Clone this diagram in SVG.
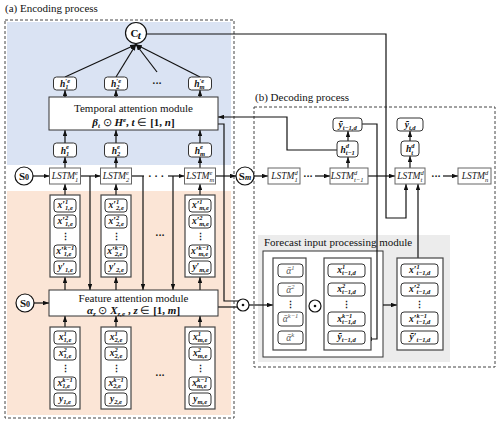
<svg xmlns="http://www.w3.org/2000/svg" width="500" height="427" viewBox="0 0 500 427">
<defs>
<marker id="ah" viewBox="0 0 8 6" refX="8" refY="3" markerWidth="6" markerHeight="4.5" orient="auto" markerUnits="userSpaceOnUse"><path d="M0,0L8,3L0,6z" fill="#111"/></marker>
<style>
.tx{font-family:"Liberation Serif","Times New Roman",serif;font-size:11px;fill:#111}
.b{font-family:"Liberation Serif","Times New Roman",serif;font-weight:bold;font-style:italic;font-size:9.5px;fill:#111}
.s{font-family:"Liberation Serif","Times New Roman",serif;font-weight:bold;font-style:italic;font-size:6.5px;fill:#111}
.li{font-family:"Liberation Serif","Times New Roman",serif;font-style:italic;font-size:9.5px;fill:#1a1a1a}
.ls{font-family:"Liberation Serif","Times New Roman",serif;font-style:italic;font-size:6.5px;fill:#1a1a1a}
.ai{font-family:"Liberation Serif","DejaVu Serif",serif;font-style:italic;font-size:9.5px;fill:#555}
.as{font-family:"Liberation Serif","DejaVu Serif",serif;font-style:italic;font-size:6.5px;fill:#555}
.dt{font-family:"DejaVu Serif","Liberation Serif",serif;font-weight:bold;font-size:9px;fill:#111}
.it{fill:#fff;stroke:#333;stroke-width:1}
.col{fill:#fff;stroke:#444;stroke-width:1.2}
.lstm{fill:#fff;stroke:#666;stroke-width:1}
.mod{fill:#fff;stroke:#333;stroke-width:1}
.cir{fill:#fff;stroke:#111;stroke-width:1.2}
.ln{fill:none;stroke:#111;stroke-width:1.2}
.ar{marker-end:url(#ah)}
.dash{fill:none;stroke:#444;stroke-width:1;stroke-dasharray:3 2}
</style>
</defs>

<!-- backgrounds -->
<rect x="7" y="22" width="224" height="143" fill="#dae3f3"/>
<rect x="7" y="191" width="224" height="224" fill="#fbe5d6"/>
<rect x="258" y="235" width="192" height="127" fill="#ececec"/>
<rect class="dash" x="5" y="20" width="229" height="398"/>
<rect class="dash" x="254" y="107" width="241" height="260"/>
<text class="tx" x="5" y="12">(a) Encoding process</text>
<text class="tx" x="255" y="101">(b) Decoding process</text>
<text class="tx" x="264" y="246">Forecast input processing module</text>
<rect x="263" y="251" width="120" height="106" fill="#fff" stroke="#333" stroke-width="1"/>

<!-- connectors -->
<g id="connectors">
<path class="ln ar" d="M65,77L136,44.5"/>
<path class="ln ar" d="M116,77L136,44.5"/>
<path class="ln ar" d="M157,72L136,44.5"/>
<path class="ln ar" d="M200,77L136,44.5"/>
<path class="ln ar" d="M65,97V90"/>
<path class="ln ar" d="M116,97V90"/>
<path class="ln ar" d="M200,97V90"/>
<path class="ln ar" d="M65,143V130"/>
<path class="ln ar" d="M116,143V130"/>
<path class="ln ar" d="M200,143V130"/>
<path class="ln ar" d="M65,168V157"/>
<path class="ln ar" d="M116,168V157"/>
<path class="ln ar" d="M200,168V157"/>
<path class="ln ar" d="M65,195V184"/>
<path class="ln ar" d="M116,195V184"/>
<path class="ln ar" d="M200,195V184"/>
<path class="ln ar" d="M33,176H49.5"/>
<path class="ln ar" d="M80.5,176H100.5"/>
<path class="ln" d="M131.5,176H144"/>
<path class="ln ar" d="M168,176H184.5"/>
<path class="ln ar" d="M215.5,176H236"/>
<path class="ln ar" d="M90,176V290"/>
<path class="ln ar" d="M143,176V290"/>
<path class="ln ar" d="M173,176V290"/>
<path class="ln ar" d="M65,290V277"/>
<path class="ln ar" d="M116,290V277"/>
<path class="ln ar" d="M200,290V277"/>
<path class="ln ar" d="M65,327V316"/>
<path class="ln ar" d="M116,327V316"/>
<path class="ln ar" d="M200,327V316"/>
<path class="ln ar" d="M34,303H49"/>
<path class="ln" d="M218,124H224V301H238"/>
<path class="ln" d="M218,307H237"/>
<path class="ln ar" d="M249,305H273"/>
<path class="ln ar" d="M383,305H397"/>
<path class="ln ar" d="M147,34H386V218H406V184"/>
<path class="ln ar" d="M337,150H287V117H218"/>
<path class="ln ar" d="M362,124H377V339H366"/>
<path class="ln ar" d="M418,258V184"/>
<path class="ln ar" d="M254,176H268"/>
<path class="ln ar" d="M315,176H330"/>
<path class="ln ar" d="M368,176H395"/>
<path class="ln ar" d="M443,176H458"/>
<path class="ln ar" d="M348,168V157"/>
<path class="ln ar" d="M348,141V131"/>
<path class="ln ar" d="M410,168V156"/>
<path class="ln ar" d="M410,141V131"/>
</g>

<!-- Ct -->
<g id="Ct"><circle class="cir" cx="136" cy="33" r="10.5"/>
<text class="tx" x="130.5" y="37" font-weight="bold">C</text><text class="tx" x="137.8" y="39" font-size="7" font-style="italic" font-weight="bold">t</text></g>

<!-- h' row -->
<g id="hp1"><rect class="it" x="53.5" y="77" width="23" height="13" rx="3"/><text class="b" x="65.3" y="87" text-anchor="end">h</text><text class="s" x="65.3" y="82.8">′e</text><text class="s" x="65.3" y="89">1</text></g>
<g id="hp2"><rect class="it" x="104.5" y="77" width="23" height="13" rx="3"/><text class="b" x="116.3" y="87" text-anchor="end">h</text><text class="s" x="116.3" y="82.8">′e</text><text class="s" x="116.3" y="89">2</text></g>
<text class="dt" x="157" y="86" text-anchor="middle" font-size="11">···</text>
<g id="hpm"><rect class="it" x="188.5" y="77" width="23" height="13" rx="3"/><text class="b" x="199.5" y="87" text-anchor="end">h</text><text class="s" x="199.5" y="82.8">′e</text><text class="s" x="199.5" y="89">m</text></g>

<!-- temporal module -->
<g id="temporal"><rect class="mod" x="49" y="97" width="169" height="33"/>
<text class="tx" x="133.5" y="111.5" text-anchor="middle">Temporal attention module</text>
<text class="tx" x="133.5" y="125.5" text-anchor="middle" font-weight="bold"><tspan font-style="italic">β</tspan><tspan font-style="italic" font-size="7" dy="2">t</tspan><tspan dy="-2" font-weight="normal"> ⊙ </tspan><tspan font-style="italic">H</tspan><tspan font-style="italic" font-size="7" dy="-4">e</tspan><tspan dy="4">, </tspan><tspan font-style="italic">t</tspan><tspan font-weight="normal"> ∈ </tspan>[1, <tspan font-style="italic">n</tspan>]</text></g>

<!-- h^e row -->
<g id="he1"><rect class="it" x="53.5" y="143" width="23" height="14" rx="3"/><text class="b" x="66" y="153.5" text-anchor="end">h</text><text class="s" x="66" y="149">e</text><text class="s" x="66" y="155.8">1</text></g>
<g id="he2"><rect class="it" x="104.5" y="143" width="23" height="14" rx="3"/><text class="b" x="117" y="153.5" text-anchor="end">h</text><text class="s" x="117" y="149">e</text><text class="s" x="117" y="155.8">2</text></g>
<g id="hem"><rect class="it" x="188.5" y="143" width="23" height="14" rx="3"/><text class="b" x="200" y="153.5" text-anchor="end">h</text><text class="s" x="200" y="149">e</text><text class="s" x="200" y="155.8">m</text></g>

<!-- encoder LSTM row -->
<g id="S0a"><circle class="cir" cx="24" cy="176" r="9"/><text class="tx" x="24" y="179.5" text-anchor="middle" font-weight="bold" font-size="10">S<tspan font-size="8">0</tspan></text></g>
<g id="lstme1"><rect class="lstm" x="49.5" y="168" width="31" height="16"/><text class="li" x="75" y="179" text-anchor="end">LSTM</text><text class="ls" x="75" y="175">e</text><text class="ls" x="75" y="181.5">1</text></g>
<g id="lstme2"><rect class="lstm" x="100.5" y="168" width="31" height="16"/><text class="li" x="126" y="179" text-anchor="end">LSTM</text><text class="ls" x="126" y="175">e</text><text class="ls" x="126" y="181.5">2</text></g>
<text class="dt" x="156" y="179" text-anchor="middle" font-size="9">· · ·</text>
<g id="lstmem"><rect class="lstm" x="184.5" y="168" width="31" height="16"/><text class="li" x="209.5" y="179" text-anchor="end">LSTM</text><text class="ls" x="209.5" y="175">e</text><text class="ls" x="209.5" y="181.5">m</text></g>
<g id="Sm"><circle class="cir" cx="245" cy="176" r="9"/><text class="tx" x="245" y="179.5" text-anchor="middle" font-weight="bold" font-size="10">S<tspan font-size="8" font-style="italic">m</tspan></text></g>

<!-- encoder upper input columns -->
<g id="colp1"><rect class="col" x="50" y="195" width="30" height="82"/>
<rect class="it" x="54" y="199" width="22" height="13" rx="3"/><text class="b" x="65" y="208.2" text-anchor="end">x′</text><text class="s" x="65" y="204.3">1</text><text class="s" x="65" y="210.3">1,e</text>
<rect class="it" x="54" y="215" width="22" height="13" rx="3"/><text class="b" x="65" y="224.2" text-anchor="end">x′</text><text class="s" x="65" y="220.3">2</text><text class="s" x="65" y="226.3">1,e</text>
<text class="dt" x="65" y="240" text-anchor="middle" font-size="10">⋮</text>
<rect class="it" x="54" y="245" width="22" height="13" rx="3"/><text class="b" x="63.7" y="254.2" text-anchor="end">x′</text><text class="s" x="63.7" y="250.3">k−1</text><text class="s" x="63.7" y="256.3">1,e</text>
<rect class="it" x="54" y="261" width="22" height="13" rx="3"/><text class="b" x="65" y="270.2" text-anchor="end">y′</text><text class="s" x="65" y="272.3">1,e</text></g>
<g id="colp2"><rect class="col" x="101" y="195" width="30" height="82"/>
<rect class="it" x="105" y="199" width="22" height="13" rx="3"/><text class="b" x="116" y="208.2" text-anchor="end">x′</text><text class="s" x="116" y="204.3">1</text><text class="s" x="116" y="210.3">2,e</text>
<rect class="it" x="105" y="215" width="22" height="13" rx="3"/><text class="b" x="116" y="224.2" text-anchor="end">x′</text><text class="s" x="116" y="220.3">2</text><text class="s" x="116" y="226.3">2,e</text>
<text class="dt" x="116" y="240" text-anchor="middle" font-size="10">⋮</text>
<rect class="it" x="105" y="245" width="22" height="13" rx="3"/><text class="b" x="114.7" y="254.2" text-anchor="end">x′</text><text class="s" x="114.7" y="250.3">k−1</text><text class="s" x="114.7" y="256.3">2,e</text>
<rect class="it" x="105" y="261" width="22" height="13" rx="3"/><text class="b" x="116" y="270.2" text-anchor="end">y′</text><text class="s" x="116" y="272.3">2,e</text></g>
<text class="dt" x="160" y="238" text-anchor="middle" font-size="10">···</text>
<g id="colpm"><rect class="col" x="185" y="195" width="30" height="82"/>
<rect class="it" x="189" y="199" width="22" height="13" rx="3"/><text class="b" x="199.3" y="208.2" text-anchor="end">x′</text><text class="s" x="199.3" y="204.3">1</text><text class="s" x="199.3" y="210.3">m,e</text>
<rect class="it" x="189" y="215" width="22" height="13" rx="3"/><text class="b" x="199.3" y="224.2" text-anchor="end">x′</text><text class="s" x="199.3" y="220.3">2</text><text class="s" x="199.3" y="226.3">m,e</text>
<text class="dt" x="200" y="240" text-anchor="middle" font-size="10">⋮</text>
<rect class="it" x="189" y="245" width="22" height="13" rx="3"/><text class="b" x="198.5" y="254.2" text-anchor="end">x′</text><text class="s" x="198.5" y="250.3">k−1</text><text class="s" x="198.5" y="256.3">m,e</text>
<rect class="it" x="189" y="261" width="22" height="13" rx="3"/><text class="b" x="199.3" y="270.2" text-anchor="end">y′</text><text class="s" x="199.3" y="272.3">m,e</text></g>

<!-- feature module -->
<g id="S0b"><circle class="cir" cx="25" cy="303" r="9"/><text class="tx" x="25" y="306.5" text-anchor="middle" font-weight="bold" font-size="10">S<tspan font-size="8">0</tspan></text></g>
<g id="feature"><rect class="mod" x="49" y="290" width="169" height="26"/>
<text class="tx" x="133.5" y="302" text-anchor="middle">Feature attention module</text>
<text class="tx" x="133.5" y="313.5" text-anchor="middle" font-weight="bold"><tspan font-style="italic">α</tspan><tspan font-style="italic" font-size="7" dy="2">z</tspan><tspan dy="-2" font-weight="normal"> ⊙ </tspan><tspan font-style="italic">X</tspan><tspan font-style="italic" font-size="7" dy="2">z,e</tspan><tspan dy="-2"> ,  </tspan><tspan font-style="italic">z</tspan><tspan font-weight="normal"> ∈ </tspan>[1, <tspan font-style="italic">m</tspan>]</text></g>
<g id="odotA"><circle class="cir" cx="243" cy="305" r="6"/><circle cx="243" cy="305" r="1.3" fill="#111"/></g>

<!-- encoder lower input columns -->
<g id="colx1"><rect class="col" x="50" y="327" width="30" height="82"/>
<rect class="it" x="54" y="331" width="22" height="13" rx="3"/><text class="b" x="63.5" y="340.2" text-anchor="end">x</text><text class="s" x="63.5" y="336.3">1</text><text class="s" x="63.5" y="342.3">1,e</text>
<rect class="it" x="54" y="347" width="22" height="13" rx="3"/><text class="b" x="63.5" y="356.2" text-anchor="end">x</text><text class="s" x="63.5" y="352.3">2</text><text class="s" x="63.5" y="358.3">1,e</text>
<text class="dt" x="65" y="372" text-anchor="middle" font-size="10">⋮</text>
<rect class="it" x="54" y="377" width="22" height="13" rx="3"/><text class="b" x="62.2" y="386.2" text-anchor="end">x</text><text class="s" x="62.2" y="382.3">k−1</text><text class="s" x="62.2" y="388.3">1,e</text>
<rect class="it" x="54" y="393" width="22" height="13" rx="3"/><text class="b" x="63.2" y="402.2" text-anchor="end">y</text><text class="s" x="63.2" y="404.3">1,e</text></g>
<g id="colx2"><rect class="col" x="101" y="327" width="30" height="82"/>
<rect class="it" x="105" y="331" width="22" height="13" rx="3"/><text class="b" x="114.5" y="340.2" text-anchor="end">x</text><text class="s" x="114.5" y="336.3">1</text><text class="s" x="114.5" y="342.3">2,e</text>
<rect class="it" x="105" y="347" width="22" height="13" rx="3"/><text class="b" x="114.5" y="356.2" text-anchor="end">x</text><text class="s" x="114.5" y="352.3">2</text><text class="s" x="114.5" y="358.3">2,e</text>
<text class="dt" x="116" y="372" text-anchor="middle" font-size="10">⋮</text>
<rect class="it" x="105" y="377" width="22" height="13" rx="3"/><text class="b" x="113.2" y="386.2" text-anchor="end">x</text><text class="s" x="113.2" y="382.3">k−1</text><text class="s" x="113.2" y="388.3">2,e</text>
<rect class="it" x="105" y="393" width="22" height="13" rx="3"/><text class="b" x="114.2" y="402.2" text-anchor="end">y</text><text class="s" x="114.2" y="404.3">2,e</text></g>
<text class="dt" x="160" y="378" text-anchor="middle" font-size="10">···</text>
<g id="colxm"><rect class="col" x="185" y="327" width="30" height="82"/>
<rect class="it" x="189" y="331" width="22" height="13" rx="3"/><text class="b" x="197.8" y="340.2" text-anchor="end">x</text><text class="s" x="197.8" y="336.3">1</text><text class="s" x="197.8" y="342.3">m,e</text>
<rect class="it" x="189" y="347" width="22" height="13" rx="3"/><text class="b" x="197.8" y="356.2" text-anchor="end">x</text><text class="s" x="197.8" y="352.3">2</text><text class="s" x="197.8" y="358.3">m,e</text>
<text class="dt" x="200" y="372" text-anchor="middle" font-size="10">⋮</text>
<rect class="it" x="189" y="377" width="22" height="13" rx="3"/><text class="b" x="197" y="386.2" text-anchor="end">x</text><text class="s" x="197" y="382.3">k−1</text><text class="s" x="197" y="388.3">m,e</text>
<rect class="it" x="189" y="393" width="22" height="13" rx="3"/><text class="b" x="197.5" y="402.2" text-anchor="end">y</text><text class="s" x="197.5" y="404.3">m,e</text></g>

<!-- decoder LSTM row -->
<g id="lstmd1"><rect class="lstm" x="268" y="168" width="32" height="16"/><text class="li" x="294.5" y="179" text-anchor="end">LSTM</text><text class="ls" x="294.5" y="175">d</text><text class="ls" x="294.5" y="181.5">1</text></g>
<text class="dt" x="308" y="179" text-anchor="middle" font-size="8">···</text>
<g id="lstmdt1"><rect class="lstm" x="330" y="168" width="38" height="16"/><text class="li" x="354" y="179" text-anchor="end">LSTM</text><text class="ls" x="354" y="175">d</text><text class="ls" x="354" y="181.5">t−1</text></g>
<g id="lstmdt"><rect class="lstm" x="395" y="168" width="30" height="16"/><text class="li" x="420.5" y="179" text-anchor="end">LSTM</text><text class="ls" x="420.5" y="175">d</text><text class="ls" x="420.5" y="181.5">t</text></g>
<text class="dt" x="436" y="179" text-anchor="middle" font-size="8">···</text>
<g id="lstmdn"><rect class="lstm" x="458" y="168" width="33" height="16"/><text class="li" x="485" y="179" text-anchor="end">LSTM</text><text class="ls" x="485" y="175">d</text><text class="ls" x="485" y="181.5">n</text></g>

<!-- decoder outputs -->
<g id="hdt1"><rect class="it" x="337" y="141" width="21" height="16" rx="3"/><text class="b" x="345.8" y="152.5" text-anchor="end">h</text><text class="s" x="345.8" y="148.3">d</text><text class="s" x="345.8" y="155">t−1</text></g>
<g id="yt1"><rect class="it" x="333" y="118" width="29" height="13" rx="3"/><text class="b" x="342.8" y="127.5" text-anchor="end">ỹ</text><text class="s" x="342.8" y="129.5">t−1,d</text></g>
<g id="hdt"><rect class="it" x="401" y="141" width="18" height="15" rx="3"/><text class="b" x="411.3" y="152" text-anchor="end">h</text><text class="s" x="411.3" y="148">d</text><text class="s" x="411.3" y="154.5">t</text></g>
<g id="yt"><rect class="it" x="397" y="118" width="26" height="13" rx="3"/><text class="b" x="408.9" y="127.5" text-anchor="end">ỹ</text><text class="s" x="408.9" y="129.5">t,d</text></g>

<!-- forecast module columns -->
<g id="colA"><rect class="col" x="273" y="258" width="33" height="92"/>
<rect class="it" x="278" y="264" width="25" height="13" rx="3"/><text class="ai" x="291.3" y="273.5" text-anchor="end">ᾱ</text><text class="as" x="291.3" y="269.5">1</text>
<rect class="it" x="278" y="283" width="25" height="13" rx="3"/><text class="ai" x="291.3" y="292.5" text-anchor="end">ᾱ</text><text class="as" x="291.3" y="288.5">2</text>
<text class="dt" x="290.5" y="307.5" text-anchor="middle" font-size="10">⋮</text>
<rect class="it" x="278" y="312" width="25" height="14" rx="3"/><text class="ai" x="287.8" y="322" text-anchor="end">ᾱ</text><text class="as" x="287.8" y="318">k−1</text>
<rect class="it" x="278" y="331" width="25" height="13" rx="3"/><text class="ai" x="291.3" y="340.5" text-anchor="end">ᾱ</text><text class="as" x="291.3" y="336.5">k</text></g>
<g id="odotB"><circle class="cir" cx="315" cy="306" r="6"/><circle cx="315" cy="306" r="1.3" fill="#111"/></g>
<g id="colX"><rect class="col" x="324" y="258" width="47" height="92"/>
<rect class="it" x="328" y="264" width="37" height="13" rx="3"/><text class="b" x="341.9" y="273.2" text-anchor="end">x</text><text class="s" x="341.9" y="269.3">1</text><text class="s" x="341.9" y="275.3">t−1,d</text>
<rect class="it" x="328" y="283" width="37" height="13" rx="3"/><text class="b" x="341.9" y="292.2" text-anchor="end">x</text><text class="s" x="341.9" y="288.3">2</text><text class="s" x="341.9" y="294.3">t−1,d</text>
<text class="dt" x="346.5" y="307.5" text-anchor="middle" font-size="10">⋮</text>
<rect class="it" x="328" y="312" width="37" height="14" rx="3"/><text class="b" x="341.9" y="321.5" text-anchor="end">x</text><text class="s" x="341.9" y="317.5">k−1</text><text class="s" x="341.9" y="324">t−1,d</text>
<rect class="it" x="328" y="331" width="37" height="13" rx="3"/><text class="b" x="341.8" y="340.2" text-anchor="end">ỹ</text><text class="s" x="341.8" y="342.3">t−1,d</text></g>
<g id="colXp"><rect class="col" x="397" y="258" width="46" height="92"/>
<rect class="it" x="401" y="264" width="37" height="13" rx="3"/><text class="b" x="416.5" y="273.2" text-anchor="end">x′</text><text class="s" x="416.5" y="269.3">1</text><text class="s" x="416.5" y="275.3">t−1,d</text>
<rect class="it" x="401" y="283" width="37" height="13" rx="3"/><text class="b" x="416.5" y="292.2" text-anchor="end">x′</text><text class="s" x="416.5" y="288.3">2</text><text class="s" x="416.5" y="294.3">t−1,d</text>
<text class="dt" x="419.5" y="307.5" text-anchor="middle" font-size="10">⋮</text>
<rect class="it" x="401" y="312" width="37" height="14" rx="3"/><text class="b" x="416.5" y="321.5" text-anchor="end">x′</text><text class="s" x="416.5" y="317.5">k−1</text><text class="s" x="416.5" y="324">t−1,d</text>
<rect class="it" x="401" y="331" width="37" height="13" rx="3"/><text class="b" x="416.5" y="340.2" text-anchor="end">ỹ′</text><text class="s" x="416.5" y="342.3">t−1,d</text></g>
</svg>
